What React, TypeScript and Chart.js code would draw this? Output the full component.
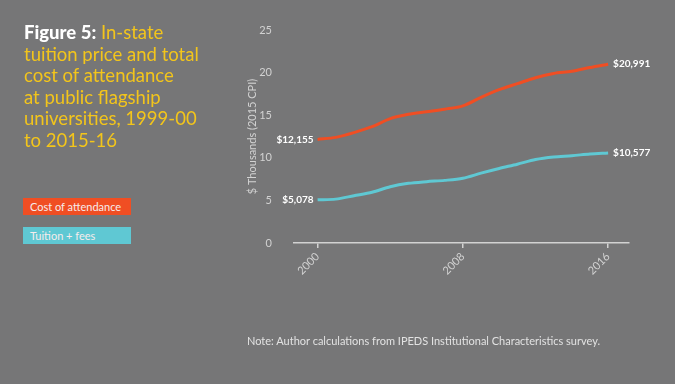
import React, { useEffect, useRef } from "react";
import { Chart, registerables } from "chart.js";

Chart.register(...registerables);

const years = [2000, 2001, 2002, 2003, 2004, 2005, 2006, 2007, 2008, 2009, 2010, 2011, 2012, 2013, 2014, 2015, 2016];
const costOfAttendance = [12.155, 12.4, 12.95, 13.65, 14.6, 15.1, 15.4, 15.7, 16.1, 17.1, 18.0, 18.7, 19.4, 19.9, 20.15, 20.6, 20.991];
const tuitionFees = [5.078, 5.15, 5.55, 5.95, 6.6, 7.0, 7.2, 7.35, 7.6, 8.2, 8.75, 9.25, 9.8, 10.1, 10.25, 10.45, 10.577];
const startLabels = ["$12,155", "$5,078"];
const endLabels = ["$20,991", "$10,577"];
const xTickValues = [2000, 2008, 2016];
const seriesNames = ["Cost of attendance", "Tuition + fees"];
const titleLines = ["In-state", "tuition price and total", "cost of attendance", "at public flagship", "universities, 1999-00", "to 2015-16"];

const BG = "#767677";
const ORANGE = "#f04e23";
const TEAL = "#5fc8d3";
const AXIS = "#d2d2d2";
const FONT = "Lato, 'Open Sans', sans-serif";

export default function App() {
  const ref = useRef<HTMLCanvasElement>(null);

  useEffect(() => {
    document.body.style.margin = "0";
    const endLabelPlugin = {
      id: "endLabels",
      afterDatasetsDraw(chart: any) {
        const ctx = chart.ctx;
        ctx.save();
        ctx.font = `bold 10px ${FONT}`;
        ctx.fillStyle = "#ffffff";
        ctx.textBaseline = "middle";
        chart.data.datasets.forEach((ds: any, i: number) => {
          const meta = chart.getDatasetMeta(i);
          const first = meta.data[0];
          const last = meta.data[meta.data.length - 1];
          ctx.textAlign = "right";
          ctx.fillText(startLabels[i], first.x - 4, first.y);
          ctx.textAlign = "left";
          ctx.fillText(endLabels[i], last.x + 5, last.y);
        });
        ctx.restore();
      },
    };

    const chart = new Chart(ref.current!, {
      type: "line",
      data: {
        datasets: [
          {
            label: seriesNames[0],
            data: years.map((y, i) => ({ x: y, y: costOfAttendance[i] })),
            borderColor: ORANGE,
            borderWidth: 3,
            pointRadius: 0,
            tension: 0.3,
          },
          {
            label: seriesNames[1],
            data: years.map((y, i) => ({ x: y, y: tuitionFees[i] })),
            borderColor: TEAL,
            borderWidth: 3,
            pointRadius: 0,
            tension: 0.3,
          },
        ],
      },
      options: {
        animation: false,
        responsive: false,
        layout: { padding: { left: 240, right: 46, top: 30, bottom: 101 } },
        plugins: { legend: { display: false }, tooltip: { enabled: false } },
        scales: {
          x: {
            type: "linear",
            min: 1998.7,
            max: 2017.15,
            afterBuildTicks: (s: any) => {
              s.ticks = xTickValues.map((v) => ({ value: v }));
            },
            afterFit: (s: any) => {
              s.height = 40;
            },
            ticks: {
              color: AXIS,
              font: { family: FONT, size: 11 },
              minRotation: 45,
              maxRotation: 45,
              padding: 2,
              callback: (v: any) => String(v),
            },
            grid: { display: true, drawOnChartArea: false, drawTicks: true, tickLength: 5, color: AXIS, lineWidth: 1.5 },
            border: { display: true, color: AXIS, width: 1.5 },
          },
          y: {
            min: 0,
            max: 25,
            afterFit: (s: any) => {
              s.width = 54;
            },
            ticks: {
              stepSize: 5,
              color: AXIS,
              font: { family: FONT, size: 11 },
              padding: 22,
            },
            grid: { display: false, drawTicks: false },
            border: { display: false },
            title: {
              display: true,
              text: "$ Thousands (2015 CPI)",
              color: AXIS,
              font: { family: FONT, size: 11 },
              padding: { top: 6, bottom: 0 },
            },
          },
        },
      },
      plugins: [endLabelPlugin],
    });
    return () => chart.destroy();
  }, []);

  const titleStyle: React.CSSProperties = {
    position: "absolute",
    left: 24,
    top: 22,
    width: 230,
    fontFamily: FONT,
    fontSize: 18.5,
    lineHeight: "21.6px",
    color: "#f3c51b",
    whiteSpace: "nowrap",
  };
  const box = (top: number, color: string): React.CSSProperties => ({
    position: "absolute",
    left: 23,
    top,
    width: 108,
    height: 17,
    background: color,
    color: "#f6ecec",
    fontFamily: FONT,
    fontSize: 11,
    lineHeight: "17px",
    paddingLeft: 7,
    boxSizing: "border-box",
  });

  return (
    <div style={{ position: "fixed", left: 0, top: 0, width: 675, height: 384, background: BG, overflow: "hidden" }}>
      <canvas ref={ref} width={675} height={384} style={{ position: "absolute", left: 0, top: 0, width: 675, height: 384 }} />
      <div style={titleStyle}>
        <b style={{ color: "#ffffff", fontWeight: 900 }}>Figure 5:</b> {titleLines[0]}
        {titleLines.slice(1).map((l, i) => (
          <React.Fragment key={i}>
            <br />
            {l}
          </React.Fragment>
        ))}
      </div>
      <div style={box(198, ORANGE)}>{seriesNames[0]}</div>
      <div style={box(227, TEAL)}>{seriesNames[1]}</div>
      <div
        style={{
          position: "absolute",
          left: 247,
          top: 334,
          fontFamily: FONT,
          fontSize: 11,
          color: "#e2e2e2",
          whiteSpace: "nowrap",
        }}
      >
        Note: Author calculations from IPEDS Institutional Characteristics survey.
      </div>
    </div>
  );
}
